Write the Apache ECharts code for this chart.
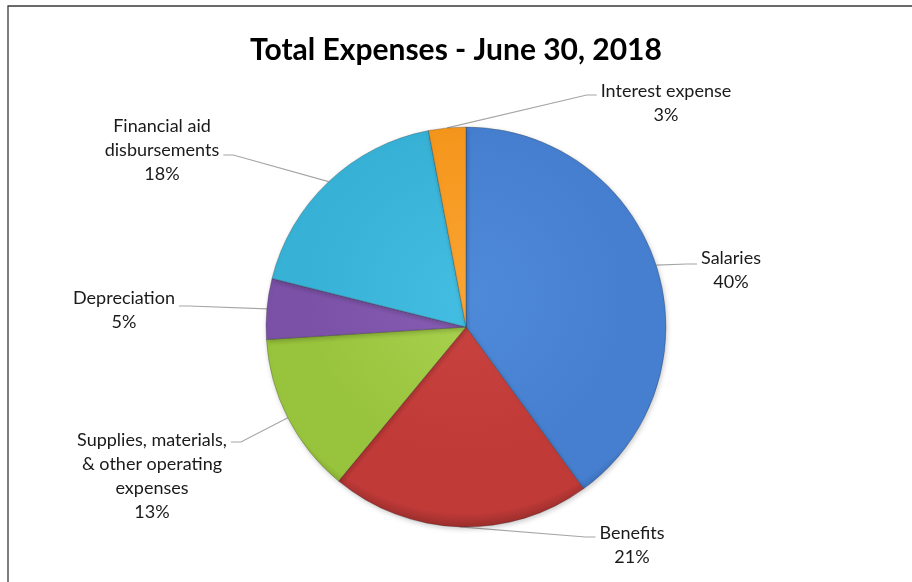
<!DOCTYPE html>
<html>
<head>
<meta charset="utf-8">
<script src="https://cdn.jsdelivr.net/npm/echarts@6/dist/echarts.min.js"></script>
<style>
  html, body { margin: 0; padding: 0; background: #ffffff; }
  #chart { width: 912px; height: 582px; }
</style>
</head>
<body>
<div id="chart"></div>
<script>
// ---- data ----
const categories = [
  'Salaries',
  'Benefits',
  'Supplies, materials,\n& other operating\nexpenses',
  'Depreciation',
  'Financial aid\ndisbursements',
  'Interest expense'
];
const shares = [40.0, 21.0, 13.0, 4.9, 18.1, 3.0];
const titleText = 'Total Expenses - June 30, 2018';

// ---- styling ----
const baseColors = ['#467fcf', '#c03a38', '#98c33c', '#7a51a6', '#37b1d6', '#f5961c'];
const lightColors = ['#4f8ad9', '#c94441', '#aad24f', '#865db3', '#43bde2', '#faa533'];
const rimColors = ['#3566ae', '#9a2e2c', '#7a9e2d', '#5d3d86', '#2891b3', '#d17b10'];
// label placement: [centerX, centerY, attachY, side of text relative to pie]
const labelPlace = [
  [731, 270, 264, 'right'],
  [632, 545, 537, 'right'],
  [152, 476, 442, 'left'],
  [124, 310, 306, 'left'],
  [162, 150, 155, 'left'],
  [666, 103, 95, 'right']
];

const CX = 466, CY = 327, R = 200;

function fillFor(i) {
  return new echarts.graphic.RadialGradient(CX, CY - 30, R + 30, [
    { offset: 0, color: lightColors[i] },
    { offset: 0.7, color: baseColors[i] },
    { offset: 0.94, color: baseColors[i] },
    { offset: 1, color: rimColors[i] }
  ], true);
}

const data = categories.map((name, i) => ({
  name: name,
  value: shares[i],
  itemStyle: { color: fillFor(i) }
}));

const chart = echarts.init(document.getElementById('chart'), null, { renderer: 'canvas' });
chart.setOption({
  backgroundColor: '#ffffff',
  animation: false,
  title: {
    text: titleText,
    left: 'center',
    top: 30,
    textStyle: { fontFamily: 'Lato', fontWeight: 'bold', fontSize: 30, color: '#000000' }
  },
  graphic: [{
    type: 'rect',
    shape: { x: 8, y: 6, width: 940, height: 620 },
    style: { fill: 'none', stroke: '#3a3a3a', lineWidth: 1.3 },
    silent: true,
    z: 0
  }],
  series: [{
    type: 'pie',
    center: [CX, CY],
    radius: R,
    startAngle: 90,
    clockwise: true,
    avoidLabelOverlap: false,
    data: data,
    itemStyle: {
      borderColor: 'rgba(40,40,40,0.35)',
      borderWidth: 0.8,
      shadowBlur: 5,
      shadowColor: 'rgba(0,0,0,0.2)',
      shadowOffsetX: 1,
      shadowOffsetY: 2
    },
    label: {
      show: true,
      position: 'outside',
      fontFamily: 'Lato',
      fontSize: 18,
      lineHeight: 24,
      color: '#1a1a1a',
      align: 'center',
      formatter: p => p.name + '\n' + Math.round(p.percent) + '%'
    },
    labelLine: {
      show: true,
      length: 10,
      length2: 10,
      lineStyle: { color: '#a6a6a6', width: 1.2 }
    },
    labelLayout: function (p) {
      const c = labelPlace[p.dataIndex];
      const w = p.labelRect.width;
      const edgeX = c[3] === 'right' ? c[0] - w / 2 - 4 : c[0] + w / 2 + 4;
      const elbowX = c[3] === 'right' ? edgeX - 10 : edgeX + 10;
      const start = p.labelLinePoints ? p.labelLinePoints[0] : [CX, CY];
      return {
        x: c[0],
        y: c[1],
        align: 'center',
        verticalAlign: 'middle',
        labelLinePoints: [start, [elbowX, c[2]], [edgeX, c[2]]]
      };
    },
    emphasis: { disabled: true }
  }]
});
</script>
</body>
</html>
